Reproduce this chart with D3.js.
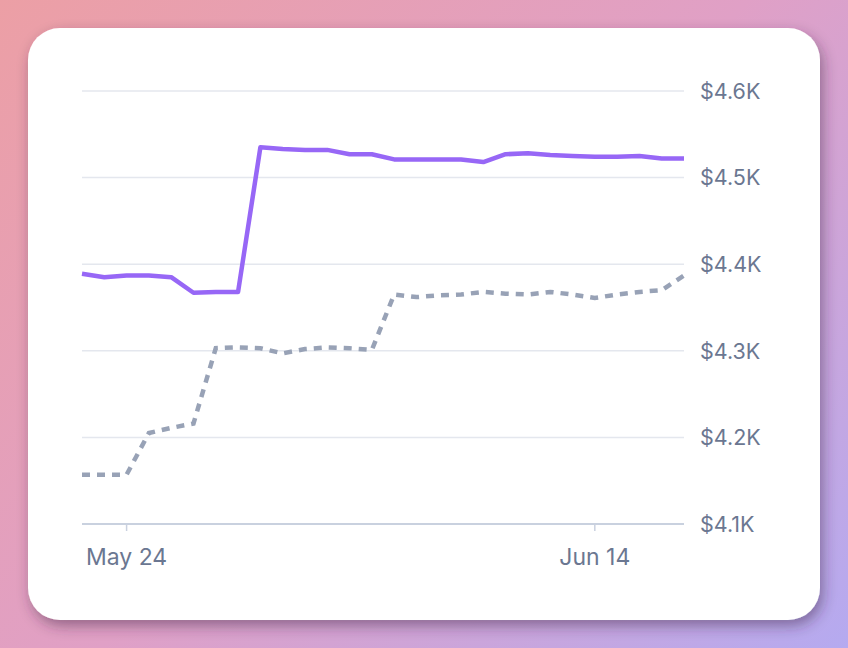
<!DOCTYPE html>
<html>
<head>
<meta charset="utf-8">
<script src="https://cdn.jsdelivr.net/npm/d3@7"></script>
<style>
  html, body {
    margin: 0;
    padding: 0;
    width: 848px;
    height: 648px;
    overflow: hidden;
    background: linear-gradient(135deg, #ec9fa5 0%, #e0a0c6 50%, #b5aaf0 100%);
  }
  svg { display: block; }
  .label { font-family: Inter, 'Liberation Sans', sans-serif; fill: #6b7791; }
</style>
</head>
<body>
<svg width="848" height="648"></svg>
<script>
const dates = [
  '2023-05-22', '2023-05-23', '2023-05-24', '2023-05-25', '2023-05-26', '2023-05-27', '2023-05-28',
  '2023-05-29', '2023-05-30', '2023-05-31', '2023-06-01', '2023-06-02', '2023-06-03', '2023-06-04',
  '2023-06-05', '2023-06-06', '2023-06-07', '2023-06-08', '2023-06-09', '2023-06-10', '2023-06-11',
  '2023-06-12', '2023-06-13', '2023-06-14', '2023-06-15', '2023-06-16', '2023-06-17', '2023-06-18'
];

const current = [
  4389, 4385, 4387, 4387, 4385, 4367, 4368, 4368, 4535, 4533, 4532, 4532, 4527, 4527,
  4521, 4521, 4521, 4521, 4518, 4527, 4528, 4526, 4525, 4524, 4524, 4525, 4522, 4522
];

const previous = [
  4157, 4157, 4157, 4205, 4211, 4216, 4303, 4304, 4303, 4297, 4302, 4304, 4303, 4301,
  4365, 4362, 4364, 4365, 4368, 4366, 4365, 4368, 4365, 4361, 4365, 4368, 4370, 4387
];

const yTicks = [4100, 4200, 4300, 4400, 4500, 4600];
const xTicks = ['2023-05-24', '2023-06-14'];

const parse = d3.utcParse('%Y-%m-%d');
const days = dates.map(parse);

const svg = d3.select('svg');

const defs = svg.append('defs');
const shadow = defs.append('filter')
  .attr('id', 'shadow')
  .attr('x', '-10%').attr('y', '-10%')
  .attr('width', '120%').attr('height', '125%');
shadow.append('feDropShadow')
  .attr('dx', 3)
  .attr('dy', 6)
  .attr('stdDeviation', 7)
  .attr('flood-color', '#3a2440')
  .attr('flood-opacity', 0.45);

svg.append('rect')
  .attr('x', 28)
  .attr('y', 28)
  .attr('width', 792)
  .attr('height', 592)
  .attr('rx', 32)
  .attr('fill', '#fff')
  .attr('filter', 'url(#shadow)');

const x = d3.scaleUtc()
  .domain(d3.extent(days))
  .range([82, 684]);

const y = d3.scaleLinear()
  .domain([4100, 4600])
  .range([524, 91]);

// grid
svg.append('g')
  .selectAll('line')
  .data(yTicks.slice(1))
  .enter()
  .append('line')
  .attr('x1', x.range()[0])
  .attr('x2', x.range()[1])
  .attr('y1', d => y(d))
  .attr('y2', d => y(d))
  .attr('stroke', '#e4e7ee')
  .attr('stroke-width', 1.5);

// bottom axis line + ticks
svg.append('line')
  .attr('x1', x.range()[0])
  .attr('x2', x.range()[1])
  .attr('y1', y(4100))
  .attr('y2', y(4100))
  .attr('stroke', '#c9d1df')
  .attr('stroke-width', 2);

svg.append('g')
  .selectAll('line')
  .data(xTicks.map(parse))
  .enter()
  .append('line')
  .attr('x1', d => x(d))
  .attr('x2', d => x(d))
  .attr('y1', y(4100))
  .attr('y2', y(4100) + 7)
  .attr('stroke', '#c9d1df')
  .attr('stroke-width', 1.5);

const fmtDate = d3.utcFormat('%b %-d');

svg.append('g')
  .selectAll('text')
  .data(xTicks.map(parse))
  .enter()
  .append('text')
  .attr('class', 'label')
  .attr('x', d => x(d))
  .attr('y', 565)
  .attr('text-anchor', 'middle')
  .attr('font-size', 23)
  .text(d => fmtDate(d));

svg.append('g')
  .selectAll('text')
  .data(yTicks)
  .enter()
  .append('text')
  .attr('class', 'label')
  .attr('x', 700)
  .attr('y', d => y(d))
  .attr('dy', '0.36em')
  .attr('font-size', 21.5)
  .text(d => '$' + (d / 1000).toFixed(1) + 'K');

const line = d3.line()
  .x((d, i) => x(days[i]))
  .y(d => y(d));

svg.append('path')
  .datum(previous)
  .attr('fill', 'none')
  .attr('stroke', '#98a2b6')
  .attr('stroke-width', 4.5)
  .attr('stroke-dasharray', '8,7')
  .attr('d', line);

svg.append('path')
  .datum(current)
  .attr('fill', 'none')
  .attr('stroke', '#9767f6')
  .attr('stroke-width', 4.5)
  .attr('stroke-linejoin', 'round')
  .attr('d', line);
</script>
</body>
</html>
